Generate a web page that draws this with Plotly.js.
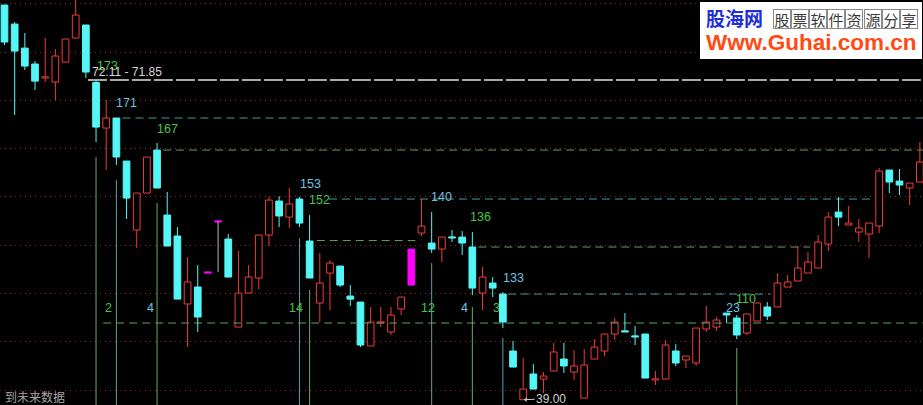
<!DOCTYPE html>
<html>
<head>
<meta charset="utf-8">
<script src="https://cdn.plot.ly/plotly-3.0.1.min.js"></script>
<style>html,body{margin:0;padding:0;background:#000;overflow:hidden}#chart{width:923px;height:405px}</style>
</head>
<body>
<div id="chart"></div>
<script>
// ---- data ----
const openP  = [79.87,77.90,75.41,73.76,72.31,71.89,73.96,76.45,77.80,71.85,67.13,68.17,63.71,56.57,60.40,64.85,58.12,55.95,48.91,50.67,52.11,57.40,55.64,46.52,50.04,51.60,56.05,59.57,57.91,59.78,55.43,49.01,52.11,52.84,49.73,49.11,44.56,46.94,46.01,48.39,54.60,56.26,55.22,54.60,55.84,55.84,54.81,50.04,51.08,49.94,44.04,39.00,41.66,41.14,41.97,43.21,41.86,39.17,43.21,44.04,45.80,46.11,45.59,45.80,41.04,41.14,44.04,43.11,42.80,46.32,46.52,47.97,47.46,45.90,47.15,48.60,48.60,50.67,51.29,52.11,52.63,55.12,58.43,57.09,56.36,56.15,56.98,62.78,61.64,60.92,61.54];
const highP  = [79.87,78.10,76.97,74.07,76.45,75.31,76.35,80.39,77.80,72.11,70.03,68.17,63.71,60.40,64.13,65.58,60.50,56.88,53.77,52.94,52.11,57.40,56.15,54.40,52.94,56.05,59.99,60.09,60.92,59.99,58.12,54.19,53.46,52.84,50.87,49.11,48.60,48.60,48.60,49.63,54.60,59.78,58.43,55.84,56.57,56.46,56.36,52.74,51.70,50.15,45.07,43.31,42.69,41.86,44.87,44.87,44.14,44.24,45.28,45.80,47.46,47.97,46.63,45.80,41.97,45.18,44.76,43.52,46.42,48.70,47.56,47.97,47.77,47.87,49.01,49.11,52.11,51.91,54.91,54.29,56.05,58.43,59.99,59.06,57.71,57.29,62.99,62.78,62.89,61.43,65.68];
const lowP   = [75.73,68.48,73.14,71.07,71.89,70.03,73.96,76.45,72.31,65.68,62.78,63.30,57.71,54.70,60.40,60.92,54.91,49.42,44.45,46.01,52.11,52.22,51.70,46.52,50.04,50.46,54.91,56.88,56.78,56.88,51.60,47.04,48.28,50.67,48.70,44.45,44.56,46.52,45.70,47.77,50.87,55.95,54.19,53.26,55.33,53.98,49.83,48.28,49.63,46.42,42.38,39.00,40.10,39.69,41.97,41.76,41.04,39.17,43.21,43.52,45.18,46.01,44.66,41.24,40.52,41.14,42.49,42.28,42.49,46.01,46.11,46.94,45.28,45.70,47.15,47.25,48.60,50.67,51.29,52.11,52.63,54.40,56.98,57.09,55.33,53.67,56.26,60.40,60.19,59.16,61.54];
const closeP = [76.04,75.10,73.55,71.99,72.41,74.59,76.35,78.83,72.93,67.23,68.17,64.13,59.88,60.40,64.13,60.92,54.91,49.42,51.19,47.56,52.11,57.40,51.70,50.04,51.70,56.05,59.67,58.02,59.26,57.29,51.60,51.08,53.15,50.87,49.41,44.66,47.04,47.04,47.77,49.63,50.87,56.98,54.60,55.84,55.74,55.22,50.56,51.70,50.56,47.04,42.38,40.10,40.10,41.45,43.94,42.49,42.49,42.59,44.45,45.80,47.04,46.01,45.49,41.24,41.14,44.66,42.80,43.52,46.42,47.04,47.25,47.77,45.70,47.87,49.01,47.66,51.08,51.19,52.63,53.26,55.33,57.91,57.91,57.29,56.78,57.29,62.68,61.54,61.23,61.43,63.61];
const markedBars = [21, 22, 41];          // bars drawn in the highlight colour

// support / resistance levels
const levelPrice = [72.10, 68.17, 64.85, 59.78, 55.48, 54.81, 49.94, 46.94];
const levelFrom  = [9.2, 12.6, 16.6, 32.9, 31.7, 47.6, 50.5, 10.7];
const levelTo    = [92, 92, 92, 86.3, 41.4, 80.2, 76.3, 92];
const levelKind  = ['w','c','g','c','g','g','c','g'];

// vertical signal lines
const vLineBar  = [10, 12, 16, 30, 31, 43, 47, 50, 73];
const vLineTop  = [64.13, 61.75, 59.37, 55.74, 50.36, 53.15, 48.60, 45.39, 44.35];
const vLineKind = ['g','c','g','c','g','c','g','c','g'];

// number labels
const labelText = ['173','72.11 - 71.85','171','167','153','152','140','136','133','2','4','14','12','4','3','23','110'];
const labelX    = [11.08,13.05,12.95,16.98,31.04,32.02,43.92,47.85,51.0,11.18,15.31,29.66,42.64,46.18,49.33,72.63,73.91];
const labelY    = [73.55,72.93,69.72,67.03,61.33,59.67,59.99,57.91,51.60,48.49,48.49,48.49,48.49,48.49,48.49,48.49,49.42];
const labelKind = ['g','w','c','g','c','g','c','g','c','g','c','g','g','c','g','c','g'];

const lowLabel = {bar: 52, price: 39.00, text: '39.00'};
const gridLevels = [40,45,50,55,60,65,70,75,80];
const footText = '到未来数据';
const wmTitle = '股海网', wmSub = '股票软件资源分享', wmUrl = 'Www.Guhai.com.cn';

// ---- styles ----
const RED = '#ee3a3a', CYAN = '#55f6f6', MAG = '#ff00ff', GRAYW = '#b8b8b8';
const levelStyle = {
  w: {color: '#a9a9a2', width: 2, dash: '19px,3px'},
  c: {color: '#3f9c9e', width: 1, dash: '8px,5px'},
  g: {color: '#62a062', width: 1, dash: '8px,5px'}
};
const vColor = {g: '#6aaa66', c: '#5a9fa6'};
const txtColor = {g: '#46c646', c: '#6cc4e4', w: '#d6d6d6'};
const Y0 = 38.45, Y1 = 80.39;

const n = openP.length;
const xs = [], base = [], hgt = [], fill = [], edge = [];
const wick = {r: {x: [], y: []}, c: {x: [], y: []}, m: {x: [], y: []}};
for (let i = 0; i < n; i++) {
  const xi = i + 1, o = openP[i], c = closeP[i];
  const lo = Math.min(o, c), hi = Math.max(o, c);
  const up = c >= o, marked = markedBars.includes(xi);
  xs.push(xi);
  const h = Math.max(hi - lo, 0.12);
  base.push(lo); hgt.push(h);
  if (marked) { fill.push(MAG); edge.push(MAG); }
  else if (up) { fill.push('#000000'); edge.push(RED); }
  else { fill.push(CYAN); edge.push(CYAN); }
  const w = marked ? wick.m : (up ? wick.r : wick.c);
  if (highP[i] > lo + h) { w.x.push(xi, xi, null); w.y.push(highP[i], lo + h, null); }
  if (lowP[i] < lo) { w.x.push(xi, xi, null); w.y.push(lo, lowP[i], null); }
}

const traces = [];
levelPrice.forEach((p, k) => {
  const s = levelStyle[levelKind[k]];
  traces.push({type: 'scatter', mode: 'lines', x: [levelFrom[k], levelTo[k]], y: [p, p],
    line: {color: s.color, width: s.width, dash: s.dash}, hoverinfo: 'skip'});
});
['g','c'].forEach(kind => {
  const vx = [], vy = [];
  vLineBar.forEach((b, k) => { if (vLineKind[k] === kind) { vx.push(b, b, null); vy.push(vLineTop[k], Y0 - 1, null); } });
  traces.push({type: 'scatter', mode: 'lines', x: vx, y: vy, line: {color: vColor[kind], width: 1}, hoverinfo: 'skip'});
});
traces.push({type: 'bar', x: xs, y: hgt, base: base, width: 0.66,
  marker: {color: fill, line: {color: edge, width: 1}}, hoverinfo: 'skip'});
traces.push({type: 'scatter', mode: 'lines', x: wick.r.x, y: wick.r.y, line: {color: RED, width: 1}, hoverinfo: 'skip'});
traces.push({type: 'scatter', mode: 'lines', x: wick.c.x, y: wick.c.y, line: {color: CYAN, width: 1}, hoverinfo: 'skip'});
traces.push({type: 'scatter', mode: 'lines', x: wick.m.x, y: wick.m.y, line: {color: GRAYW, width: 1}, hoverinfo: 'skip'});

const annotations = [];
labelText.forEach((t, k) => {
  annotations.push({x: labelX[k], y: labelY[k], xref: 'x', yref: 'y', text: t, showarrow: false,
    xanchor: 'center', yanchor: 'middle',
    font: {family: 'Liberation Sans, Arial, sans-serif', size: labelKind[k] === 'w' ? 12 : 12.5, color: txtColor[labelKind[k]]}});
});
annotations.push({x: lowLabel.bar, y: lowLabel.price, xref: 'x', yref: 'y', text: lowLabel.text,
  showarrow: true, arrowhead: 1, arrowsize: 0.8, arrowwidth: 1, arrowcolor: '#d0d0d0', ax: 28, ay: -1, standoff: 1,
  font: {family: 'Liberation Sans, Arial, sans-serif', size: 12, color: '#d0d0d0'}});
annotations.push({x: 0.003, y: 1 - 396/405, xref: 'paper', yref: 'paper', xanchor: 'left', yanchor: 'middle',
  text: footText, showarrow: false, font: {family: 'Noto Sans CJK SC', size: 12, color: '#a4a4a4'}});
// watermark texts
annotations.push({x: 734/923, y: 1 - 18/405, xref: 'paper', yref: 'paper', xanchor: 'center', yanchor: 'middle',
  text: '<b>' + wmTitle + '</b>', showarrow: false,
  font: {family: 'Noto Sans CJK SC', size: 19, color: '#1f2fd8'}});
Array.from(wmSub).forEach((ch, k) => {
  annotations.push({x: (782 + 18.1 * k)/923, y: 1 - 19/405, xref: 'paper', yref: 'paper', xanchor: 'center', yanchor: 'middle',
    text: ch, showarrow: false,
    width: 16, height: 18, borderpad: 0, bordercolor: '#8a8a8a', borderwidth: 1,
    font: {family: 'Noto Sans CJK SC', size: 15, color: '#3a3a3a'}});
});
annotations.push({x: 811/923, y: 1 - 42/405, xref: 'paper', yref: 'paper', xanchor: 'center', yanchor: 'middle',
  text: '<b>' + wmUrl + '</b>', showarrow: false,
  font: {family: 'Liberation Sans, Arial, sans-serif', size: 22.5, color: '#ff4a12'}});

const layout = {
  width: 923, height: 405, margin: {l: 0, r: 0, t: 0, b: 0, pad: 0},
  paper_bgcolor: '#000', plot_bgcolor: '#000', showlegend: false, hovermode: false, barmode: 'overlay',
  xaxis: {range: [0.557, 91.31], showgrid: false, zeroline: false, showticklabels: false, showline: false, ticks: ''},
  yaxis: {range: [Y0, Y1], tickmode: 'array', tickvals: gridLevels, showticklabels: false, ticks: '',
    showgrid: true, gridcolor: '#9a2222', gridwidth: 1, griddash: '1px,4px', zeroline: false, showline: false},
  shapes: [{type: 'rect', xref: 'paper', yref: 'paper', x0: 700/923, x1: 922/923, y0: 1 - 59/405, y1: 1 - 2/405,
    fillcolor: '#ffffff', line: {width: 0}, layer: 'above'}],
  annotations: annotations
};
Plotly.newPlot('chart', traces, layout, {staticPlot: true, displayModeBar: false});
</script>
</body>
</html>
